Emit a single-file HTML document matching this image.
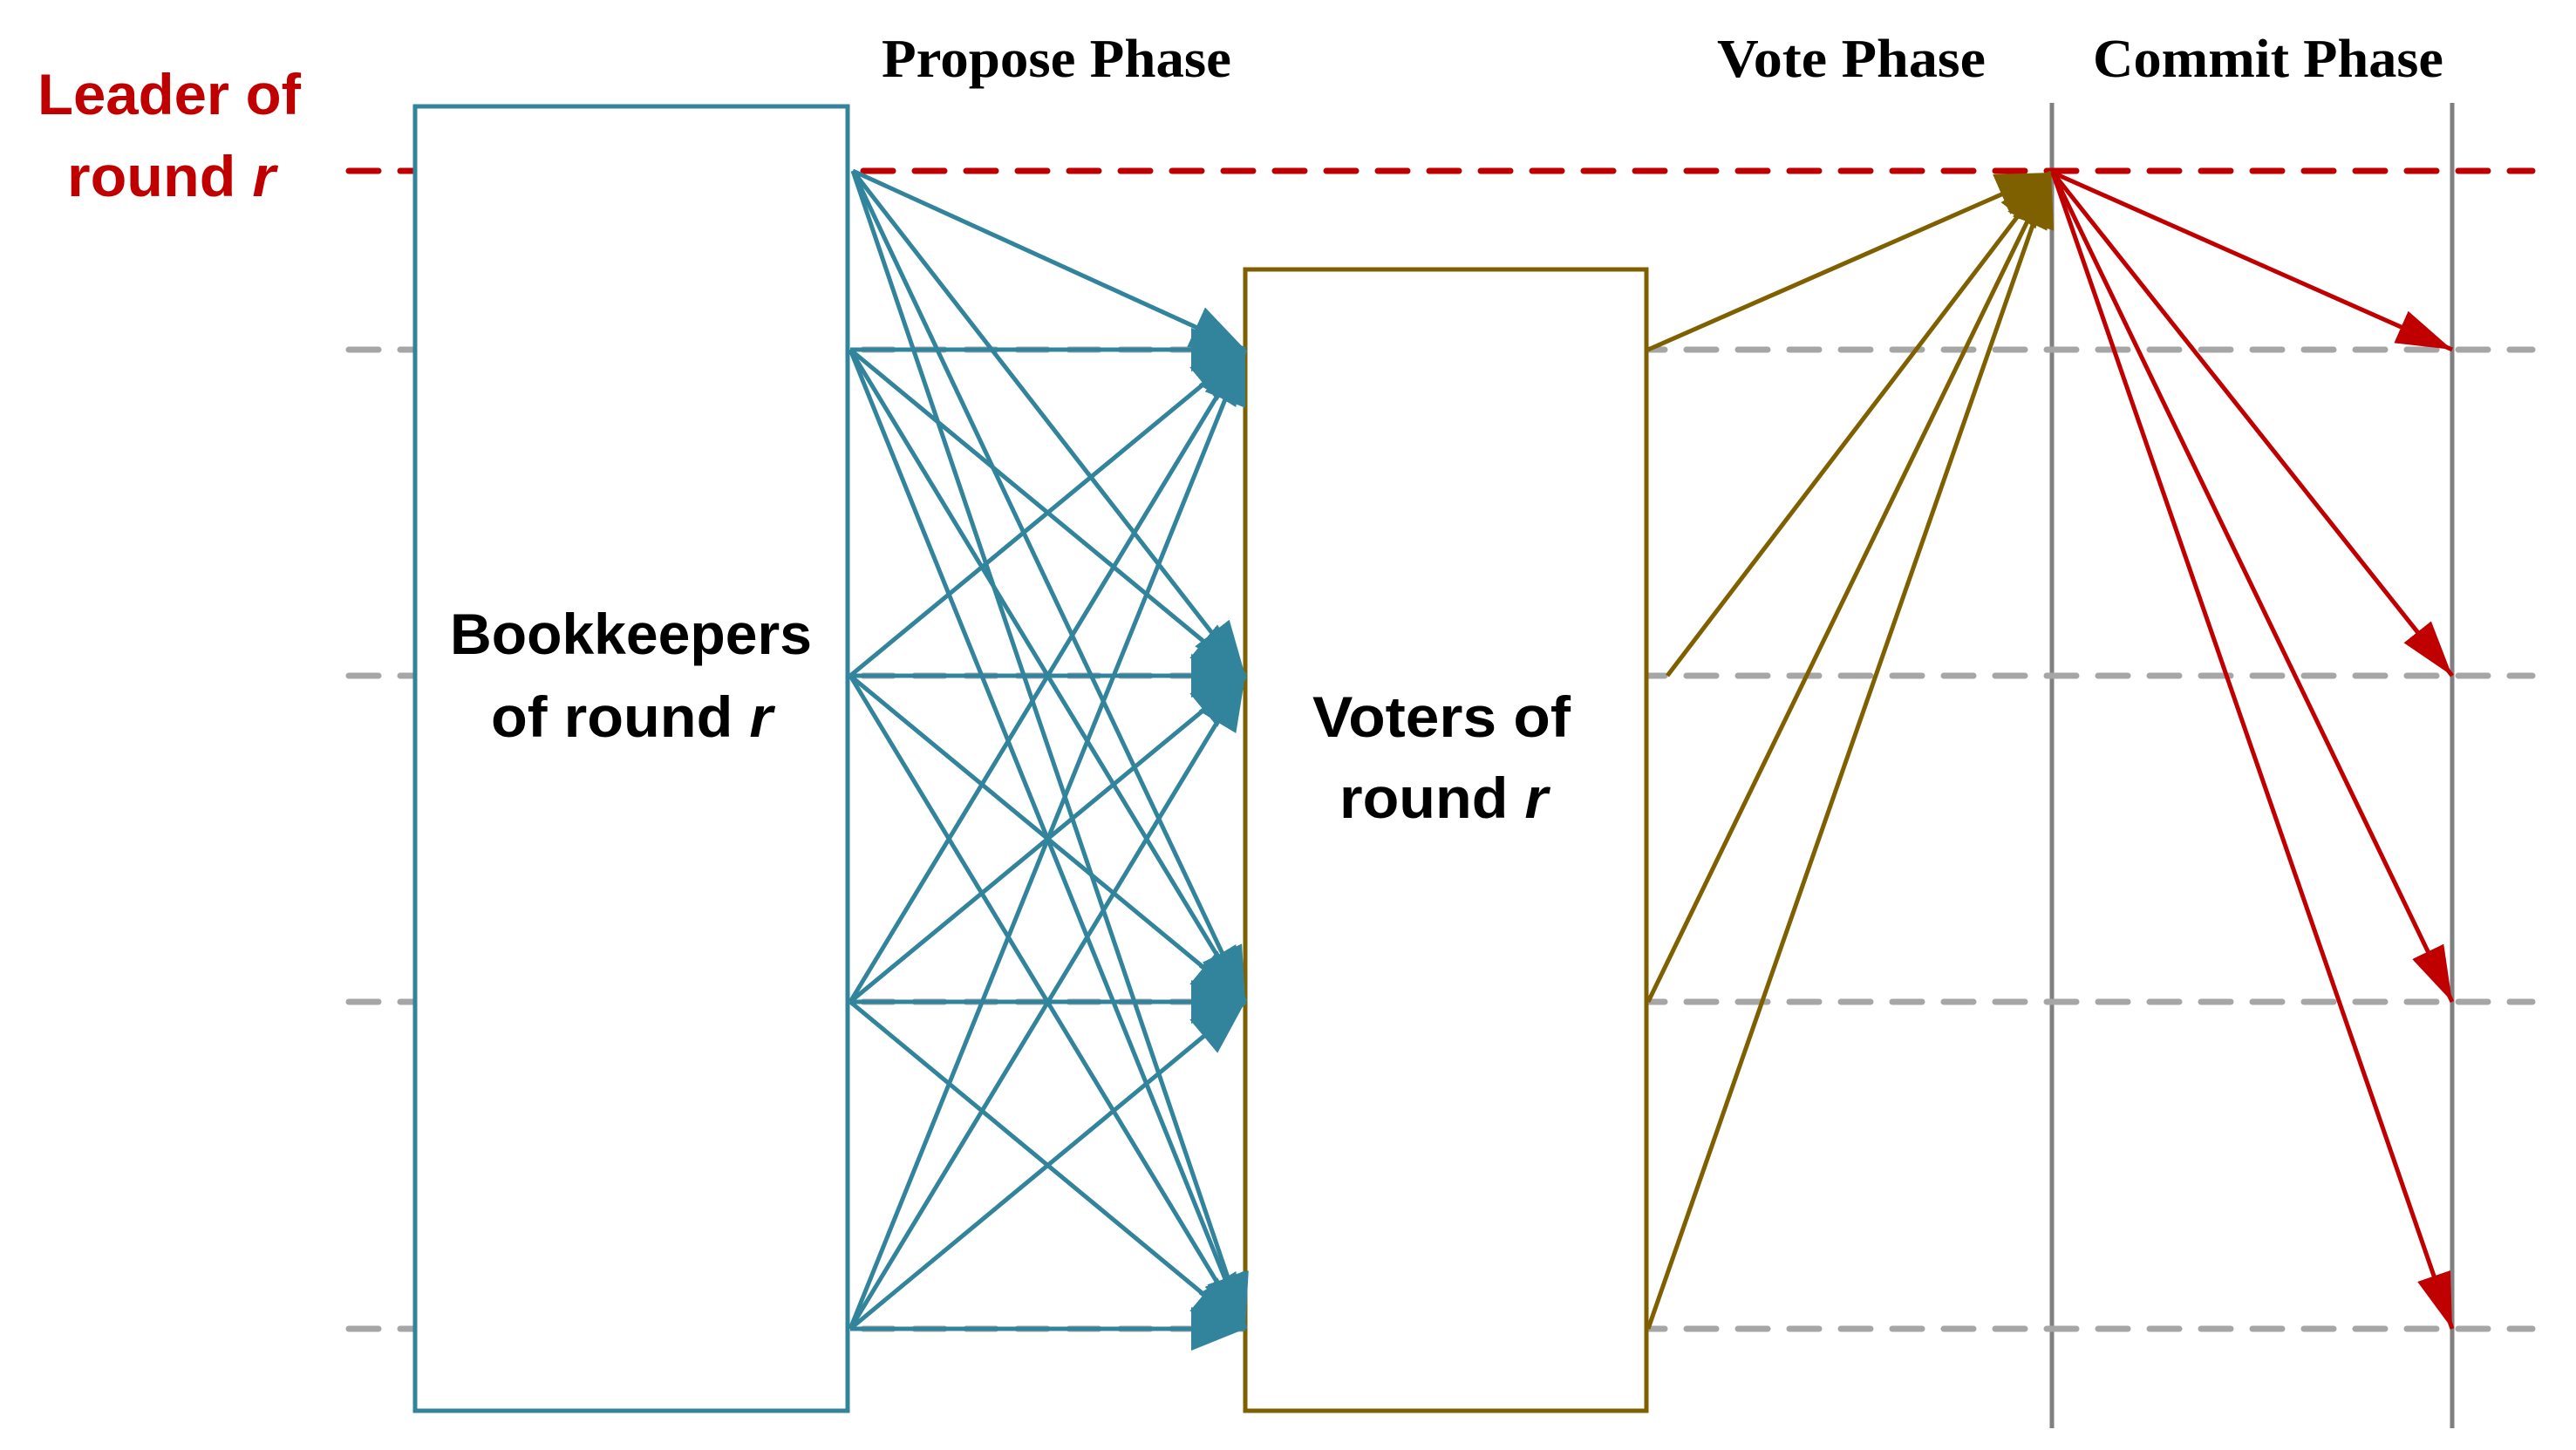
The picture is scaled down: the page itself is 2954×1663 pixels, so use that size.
<!DOCTYPE html>
<html><head><meta charset="utf-8"><style>
html,body{margin:0;padding:0;background:#fff;}
svg{display:block;}
.cal{font-family:"Liberation Sans",sans-serif;font-weight:bold;}
.tim{font-family:"Liberation Serif",serif;font-weight:bold;}
</style></head><body>
<svg width="2954" height="1663" viewBox="0 0 2954 1663" xmlns="http://www.w3.org/2000/svg">
<defs>
<marker id="at" markerUnits="userSpaceOnUse" markerWidth="70" markerHeight="60" refX="62" refY="25" orient="auto"><path d="M0,0 L62,25 L0,50 Z" fill="#31849b"/></marker>
<marker id="ab" markerUnits="userSpaceOnUse" markerWidth="70" markerHeight="60" refX="62" refY="25" orient="auto"><path d="M0,0 L62,25 L0,50 Z" fill="#7f6000"/></marker>
<marker id="ar" markerUnits="userSpaceOnUse" markerWidth="70" markerHeight="50" refX="64" refY="20" orient="auto"><path d="M0,0 L64,20 L0,40 Z" fill="#c00000"/></marker>
</defs>

<!-- vertical gray lines -->
<line x1="2353" y1="118" x2="2353" y2="1638" stroke="#808080" stroke-width="5"/>
<line x1="2812" y1="118" x2="2812" y2="1638" stroke="#808080" stroke-width="5"/>

<!-- dashed lines -->
<g stroke="#a6a6a6" stroke-width="7" stroke-linecap="round" stroke-dasharray="34 25">
<line x1="400" y1="401" x2="2904" y2="401"/>
<line x1="400" y1="775" x2="2904" y2="775"/>
<line x1="400" y1="1149" x2="2904" y2="1149"/>
<line x1="400" y1="1524" x2="2904" y2="1524"/>
</g>
<line x1="400" y1="196" x2="2904" y2="196" stroke="#c00000" stroke-width="7" stroke-linecap="round" stroke-dasharray="34 25"/>

<!-- boxes -->
<rect x="476" y="122" width="496" height="1496" fill="#fff" stroke="#31849b" stroke-width="5"/>
<rect x="1428" y="309" width="460" height="1309" fill="#fff" stroke="#7f6000" stroke-width="5"/>

<!-- teal arrows -->
<g stroke="#31849b" stroke-width="5" fill="none" marker-end="url(#at)">
<line x1="978" y1="196" x2="1428" y2="401"/>
<line x1="978" y1="196" x2="1428" y2="775"/>
<line x1="978" y1="196" x2="1428" y2="1149"/>
<line x1="978" y1="196" x2="1428" y2="1524"/>
<line x1="975" y1="401" x2="1428" y2="401"/>
<line x1="975" y1="401" x2="1428" y2="775"/>
<line x1="975" y1="401" x2="1428" y2="1149"/>
<line x1="975" y1="401" x2="1428" y2="1524"/>
<line x1="975" y1="775" x2="1428" y2="401"/>
<line x1="975" y1="775" x2="1428" y2="775"/>
<line x1="975" y1="775" x2="1428" y2="1149"/>
<line x1="975" y1="775" x2="1428" y2="1524"/>
<line x1="975" y1="1149" x2="1428" y2="401"/>
<line x1="975" y1="1149" x2="1428" y2="775"/>
<line x1="975" y1="1149" x2="1428" y2="1149"/>
<line x1="975" y1="1149" x2="1428" y2="1524"/>
<line x1="975" y1="1524" x2="1428" y2="401"/>
<line x1="975" y1="1524" x2="1428" y2="775"/>
<line x1="975" y1="1524" x2="1428" y2="1149"/>
<line x1="975" y1="1524" x2="1428" y2="1524"/>
</g>

<!-- brown arrows -->
<g stroke="#7f6000" stroke-width="5" fill="none" marker-end="url(#ab)">
<line x1="1890" y1="401" x2="2352" y2="198"/>
<line x1="1912" y1="775" x2="2352" y2="198"/>
<line x1="1890" y1="1149" x2="2352" y2="198"/>
<line x1="1890" y1="1524" x2="2352" y2="198"/>
</g>

<!-- red arrows -->
<g stroke="#c00000" stroke-width="5" fill="none" marker-end="url(#ar)">
<line x1="2354" y1="198" x2="2812" y2="401"/>
<line x1="2354" y1="198" x2="2812" y2="775"/>
<line x1="2354" y1="198" x2="2812" y2="1149"/>
<line x1="2354" y1="198" x2="2812" y2="1524"/>
</g>

<!-- text -->
<g class="cal" font-size="66" fill="#c00000">
<text x="43" y="131" textLength="302" lengthAdjust="spacingAndGlyphs">Leader of</text>
<text x="77" y="225" textLength="239" lengthAdjust="spacingAndGlyphs">round <tspan font-style="italic">r</tspan></text>
</g>
<g class="cal" font-size="66" fill="#000">
<text x="516" y="750" textLength="415" lengthAdjust="spacingAndGlyphs">Bookkeepers</text>
<text x="563" y="845" textLength="323" lengthAdjust="spacingAndGlyphs">of round <tspan font-style="italic">r</tspan></text>
<text x="1505" y="845" textLength="296" lengthAdjust="spacingAndGlyphs">Voters of</text>
<text x="1536" y="938" textLength="239" lengthAdjust="spacingAndGlyphs">round <tspan font-style="italic">r</tspan></text>
</g>
<g class="tim" font-size="62" fill="#000">
<text x="1011" y="88" textLength="401" lengthAdjust="spacingAndGlyphs">Propose Phase</text>
<text x="1969" y="88" textLength="308" lengthAdjust="spacingAndGlyphs">Vote Phase</text>
<text x="2400" y="88" textLength="402" lengthAdjust="spacingAndGlyphs">Commit Phase</text>
</g>
</svg>
</body></html>
